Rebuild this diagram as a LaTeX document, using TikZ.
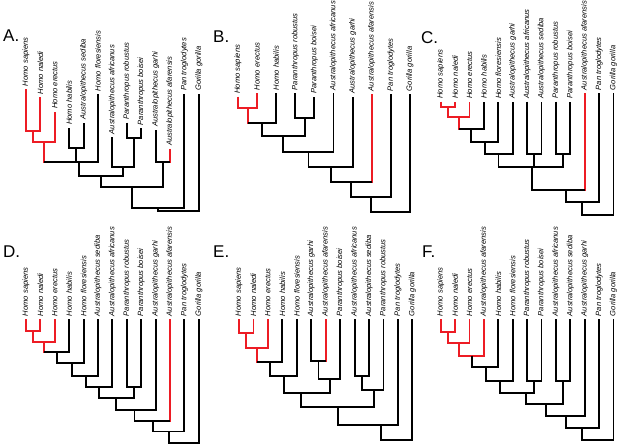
\documentclass[tikz,border=0pt]{standalone}
\usepackage{fontspec}
\setmainfont{Liberation Sans}
\usepackage{tikz}
\definecolor{hom}{HTML}{ED1C24}
\tikzset{
  br/.style={draw=black, line width=1.85pt, line join=miter},
  hl/.style={draw=hom, line width=1.85pt, line join=miter},
  hlstem/.style={hl, shorten >=-0.9pt},
  taxon/.style={rotate=90, anchor=west, inner sep=0pt, font=\fontsize{7.6}{8}\selectfont\itshape},
  panel/.style={anchor=base west, inner sep=0pt, font=\fontsize{17}{17}\selectfont},
}
\begin{document}
\begin{tikzpicture}[x=1pt, y=-1pt]
  \useasboundingbox (0,0) rectangle (617,445);
  % A
  \node[panel] (pA) at (3,41) {A.};
  \foreach \i/\y/\txt in {1/89.3/Homo sapiens, 2/97.3/Homo naledi, 3/111.7/Homo erectus,
      4/128/Homo habilis, 5/122.7/Australopithecus sediba, 6/94.3/Homo floresiensis,
      7/137.3/Australopithecus africanus, 8/122.7/Paranthropus robustus, 9/128.3/Paranthropus boisei,
      10/130/Australopithecus garhi, 11/149/Australopithecus afarensis, 12/94/Pan troglodytes,
      13/94/Gorilla gorilla}
    {\coordinate (a\i) at ({26+14.4*(\i-1)},\y);
     \node[taxon] (a\i t) at ([yshift=3pt]a\i) {\txt};}
  \coordinate (aSN) at (33.2,130.7);
  \coordinate (aSNE) at (44.1,142.3);
  \coordinate (aHS) at (76.4,147.7);
  \coordinate (aH) at (79.3,161.7);
  \coordinate (aRB) at (134,138.3);
  \coordinate (aAR) at (123.3,167.3);
  \coordinate (aHA) at (101,176);
  \coordinate (aGA) at (162.8,162.3);
  \coordinate (aI) at (131.7,187.3);
  \coordinate (aIP) at (158.3,208.3);
  \coordinate (aR) at (178.5,210.7);
  \draw[hl] (a1) |- (aSN) -| (a2);
  \draw[hl] (aSN) |- (aSNE) -| (a3);
  \draw[hlstem] (aSNE) -- (aSNE |- aH);
  \draw[br] (a4) |- (aHS) -| (a5);
  \draw[br] (aSNE |- aH) -| (a6);
  \draw[br] (aHS) -- (aHS |- aH);
  \draw[br] (a8) |- (aRB) -| (a9);
  \draw[br] (a7) |- (aAR) -| (aRB);
  \draw[br] (aH) |- (aHA) -| (aAR);
  \draw[hlstem] (a11) -- (a11 |- aGA);
  \draw[br] (a10) |- (aGA) -- (a11 |- aGA);
  \draw[br] (aHA) |- (aI) -| (aGA);
  \draw[br] (aI) |- (aIP) -| (a12);
  \draw[br] (aIP) |- (aR) -| (a13);

  % B
  \node[panel] (pB) at (213,42) {B.};
  \foreach \i/\y/\txt in {1/96.7/Homo sapiens, 2/93.3/Homo erectus, 3/93.3/Homo habilis,
      4/93.3/Paranthropus robustus, 5/96.7/Paranthropus boisei, 6/93.3/Australopithecus africanus,
      7/96.7/Australopithecus garhi, 8/94.3/Australopithecus afarensis, 9/94.3/Pan troglodytes,
      10/94.3/Gorilla gorilla}
    {\coordinate (b\i) at ({238+19.1*(\i-1)},\y);
     \node[taxon] (b\i t) at ([yshift=3pt]b\i) {\txt};}
  \coordinate (bSE) at (247.6,108.3);
  \coordinate (bH) at (261.9,122.7);
  \coordinate (bRB) at (304.9,118.3);
  \coordinate (bHP) at (283.4,136);
  \coordinate (bA) at (308.5,151.7);
  \coordinate (bG) at (330.6,166.7);
  \coordinate (bAf) at (351.2,181.7);
  \coordinate (bP) at (371,196.7);
  \coordinate (bR) at (390.5,211.7);
  \draw[hl] (b1) |- (bSE) -| (b2);
  \draw[hlstem] (bSE) -- (bSE |- bH);
  \draw[br] (bSE |- bH) -| (b3);
  \draw[br] (b4) |- (bRB) -| (b5);
  \draw[br] (bH) |- (bHP) -| (bRB);
  \draw[br] (bHP) |- (bA) -| (b6);
  \draw[br] (bA) |- (bG) -| (b7);
  \draw[hlstem] (b8) -- (b8 |- bAf);
  \draw[br] (bG) |- (bAf) -- (b8 |- bAf);
  \draw[br] (bAf) |- (bP) -| (b9);
  \draw[br] (bP) |- (bR) -| (b10);

  % C
  \node[panel] (pC) at (421,43) {C.};
  \foreach \i/\y/\txt in {1/101.7/Homo sapiens, 2/101.7/Homo naledi, 3/101.7/Homo erectus,
      4/101.7/Homo habilis, 5/101.7/Homo floresiensis, 6/101.7/Australopithecus garhi,
      7/101.7/Australopithecus africanus, 8/101.7/Australopithecus sediba, 9/101.7/Paranthropus robustus,
      10/101.7/Paranthropus boisei, 11/93.3/Australopithecus afarensis, 12/93.3/Pan troglodytes,
      13/93.3/Gorilla gorilla}
    {\coordinate (c\i) at ({440.7+14.4*(\i-1)},\y);
     \node[taxon] (c\i t) at ([yshift=3pt]c\i) {\txt};}
  \coordinate (cSN) at (447.9,106.7);
  \coordinate (cSNE) at (458.7,117.3);
  \coordinate (cH) at (471.3,129.3);
  \coordinate (cHF) at (484.8,141.7);
  \coordinate (cG) at (498.5,154);
  \coordinate (cAS) at (534.3,154);
  \coordinate (cRB) at (563.1,154);
  \coordinate (cP) at (531.7,166.7);
  \coordinate (cAf) at (566,190);
  \coordinate (cPan) at (582.3,201.7);
  \coordinate (cR) at (597,215);
  \draw[hl] (c1) |- (cSN) -| (c2);
  \draw[hl] (cSN) |- (cSNE) -| (c3);
  \draw[hlstem] (cSNE) -- (cSNE |- cH);
  \draw[br] (cSNE |- cH) -| (c4);
  \draw[br] (cH) |- (cHF) -| (c5);
  \draw[br] (cHF) |- (cG) -| (c6);
  \draw[br] (c7) |- (cAS) -| (c8);
  \draw[br] (c9) |- (cRB) -| (c10);
  \draw[br] (cG) |- (cP) -| (cRB);
  \draw[br] (cAS) -- (cAS |- cP);
  \draw[hlstem] (c11) -- (c11 |- cAf);
  \draw[br] (cP) |- (cAf) -- (c11 |- cAf);
  \draw[br] (cAf) |- (cPan) -| (c12);
  \draw[br] (cPan) |- (cR) -| (c13);

  % D
  \node[panel] (pD) at (3,257) {D.};
  \foreach \i/\txt in {1/Homo sapiens, 2/Homo naledi, 3/Homo erectus, 4/Homo habilis,
      5/Homo floresiensis, 6/Australopithecus sediba, 7/Australopithecus africanus,
      8/Paranthropus robustus, 9/Paranthropus boisei, 10/Australopithecus garhi,
      11/Australopithecus afarensis, 12/Pan troglodytes, 13/Gorilla gorilla}
    {\coordinate (d\i) at ({26+14.4*(\i-1)},319.3);
     \node[taxon] (d\i t) at ([yshift=3pt]d\i) {\txt};}
  \coordinate (dSN) at (33.2,331);
  \coordinate (dSNE) at (44.1,341.7);
  \coordinate (dH) at (56.6,352.3);
  \coordinate (dF) at (72.3,363.3);
  \coordinate (dS) at (86,375.7);
  \coordinate (dA) at (99.3,387.3);
  \coordinate (dRB) at (134,387.3);
  \coordinate (dJ) at (116,398.3);
  \coordinate (dG) at (134.5,410);
  \coordinate (dAf) at (152.7,420.7);
  \coordinate (dPan) at (169.3,431.5);
  \coordinate (dR) at (184,443.3);
  \draw[hl] (d1) |- (dSN) -| (d2);
  \draw[hl] (dSN) |- (dSNE) -| (d3);
  \draw[hlstem] (dSNE) -- (dSNE |- dH);
  \draw[br] (dSNE |- dH) -| (d4);
  \draw[br] (dH) |- (dF) -| (d5);
  \draw[br] (dF) |- (dS) -| (d6);
  \draw[br] (dS) |- (dA) -| (d7);
  \draw[br] (d8) |- (dRB) -| (d9);
  \draw[br] (dA) |- (dJ) -| (dRB);
  \draw[br] (dJ) |- (dG) -| (d10);
  \draw[hlstem] (d11) -- (d11 |- dAf);
  \draw[br] (dG) |- (dAf) -- (d11 |- dAf);
  \draw[br] (dAf) |- (dPan) -| (d12);
  \draw[br] (dPan) |- (dR) -| (d13);

  % E
  \node[panel] (pE) at (213,257) {E.};
  \foreach \i/\txt in {1/Homo sapiens, 2/Homo naledi, 3/Homo erectus, 4/Homo habilis,
      5/Homo floresiensis, 6/Australopithecus garhi, 7/Australopithecus afarensis,
      8/Paranthropus boisei, 9/Australopithecus africanus, 10/Australopithecus sediba,
      11/Paranthropus robustus, 12/Pan troglodytes, 13/Gorilla gorilla}
    {\coordinate (e\i) at ({239+14.45*(\i-1)},319.3);
     \node[taxon] (e\i t) at ([yshift=3pt]e\i) {\txt};}
  \coordinate (eSN) at (246.2,333.3);
  \coordinate (eSNE) at (257,347.7);
  \coordinate (eH) at (269.8,361.7);
  \coordinate (eF) at (284,375.7);
  \coordinate (eGA) at (318.5,360.7);
  \coordinate (eB) at (330,379);
  \coordinate (eHG) at (301,392.7);
  \coordinate (eAS) at (361.8,376);
  \coordinate (eR) at (374.3,390);
  \coordinate (eJ) at (337.7,407.3);
  \coordinate (ePan) at (380.7,425);
  \coordinate (eRt) at (396,440);
  \draw[hl] (e1) |- (eSN) -| (e2);
  \draw[hl] (eSN) |- (eSNE) -| (e3);
  \draw[hlstem] (eSNE) -- (eSNE |- eH);
  \draw[br] (eSNE |- eH) -| (e4);
  \draw[br] (eH) |- (eF) -| (e5);
  \draw[hlstem] (e7) -- (e7 |- eGA);
  \draw[br] (e6) |- (eGA) -- (e7 |- eGA);
  \draw[br] (eGA) |- (eB) -| (e8);
  \draw[br] (eF) |- (eHG) -| (eB);
  \draw[br] (e9) |- (eAS) -| (e10);
  \draw[br] (eAS) |- (eR) -| (e11);
  \draw[br] (eHG) |- (eJ) -| (eR);
  \draw[br] (eJ) |- (ePan) -| (e12);
  \draw[br] (ePan) |- (eRt) -| (e13);

  % F
  \node[panel] (pF) at (422,257) {F.};
  \foreach \i/\txt in {1/Homo sapiens, 2/Homo naledi, 3/Homo erectus, 4/Australopithecus afarensis,
      5/Homo habilis, 6/Homo floresiensis, 7/Paranthropus robustus, 8/Paranthropus boisei,
      9/Australopithecus africanus, 10/Australopithecus sediba, 11/Australopithecus garhi,
      12/Pan troglodytes, 13/Gorilla gorilla}
    {\coordinate (f\i) at ({440.7+14.4*(\i-1)},319.3);
     \node[taxon] (f\i t) at ([yshift=3pt]f\i) {\txt};}
  \coordinate (fSN) at (447.9,331.7);
  \coordinate (fSNE) at (458.7,343.3);
  \coordinate (fSNEA) at (471.7,355.7);
  \coordinate (fH) at (485.7,367.3);
  \coordinate (fF) at (500,380.7);
  \coordinate (fRB) at (534.3,380.7);
  \coordinate (fAS) at (563.1,380.7);
  \coordinate (fHR) at (525.7,392.7);
  \coordinate (fJ) at (545.7,404.3);
  \coordinate (fG) at (566,416);
  \coordinate (fPan) at (582.3,427.7);
  \coordinate (fRt) at (598,440);
  \draw[hl] (f1) |- (fSN) -| (f2);
  \draw[hl] (fSN) |- (fSNE) -| (f3);
  \draw[hl] (fSNE) |- (fSNEA) -| (f4);
  \draw[br] (fSNEA) |- (fH) -| (f5);
  \draw[br] (fH) |- (fF) -| (f6);
  \draw[br] (f7) |- (fRB) -| (f8);
  \draw[br] (f9) |- (fAS) -| (f10);
  \draw[br] (fF) |- (fHR) -| (fRB);
  \draw[br] (fHR) |- (fJ) -| (fAS);
  \draw[br] (fJ) |- (fG) -| (f11);
  \draw[br] (fG) |- (fPan) -| (f12);
  \draw[br] (fPan) |- (fRt) -| (f13);
\end{tikzpicture}
\end{document}
